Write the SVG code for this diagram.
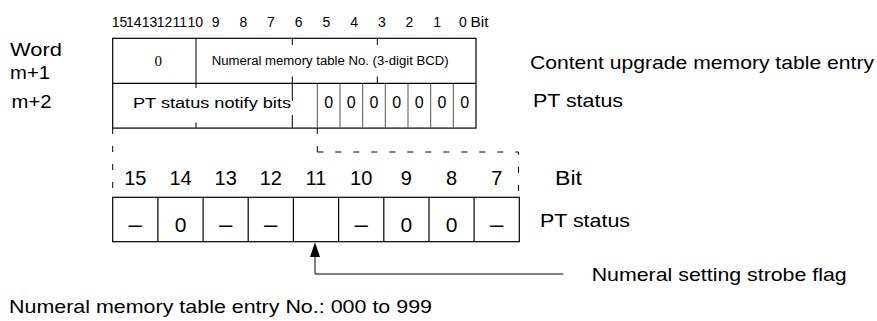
<svg xmlns="http://www.w3.org/2000/svg" width="877" height="321" viewBox="0 0 877 321">
<style>
text{font-family:"Liberation Sans",Arial,Helvetica,sans-serif;fill:#000}
.lbl{font-size:19px}
.hdr{font-size:14px}
.bn{font-size:20px;text-anchor:middle}
.cv{font-size:21px;text-anchor:middle}
.cd{font-size:24px;text-anchor:middle}
.z{font-size:16px;text-anchor:middle}
.box{fill:none;stroke:#000;stroke-width:1.2}
.ln{stroke:#000;stroke-width:1.2;fill:none}
.tk{stroke:#000;stroke-width:1;fill:none}
.gr{stroke:#555;stroke-width:1;fill:none}
.dash{fill:none;stroke:#000;stroke-width:1;stroke-dasharray:6 12}
</style>
<rect width="877" height="321" fill="#fff"/>

<g id="word-labels">
<text class="lbl" x="10" y="56" textLength="52" lengthAdjust="spacingAndGlyphs">Word</text>
<text class="lbl" x="10" y="78.5" textLength="40" lengthAdjust="spacingAndGlyphs">m+1</text>
<text class="lbl" x="11.5" y="108" textLength="40" lengthAdjust="spacingAndGlyphs">m+2</text>
</g>

<g id="top-bit-numbers">
<text class="hdr" x="111.7" y="26.5">15</text>
<text class="hdr" x="126" y="26.5">14</text>
<text class="hdr" x="141.7" y="26.5">13</text>
<text class="hdr" x="156.7" y="26.5">12</text>
<text class="hdr" x="172.5" y="26.5">11</text>
<text class="hdr" x="187.5" y="26.5">10</text>
<text class="hdr" x="211.7" y="26.5">9</text>
<text class="hdr" x="239.4" y="26.5">8</text>
<text class="hdr" x="267.1" y="26.5">7</text>
<text class="hdr" x="294.8" y="26.5">6</text>
<text class="hdr" x="322.5" y="26.5">5</text>
<text class="hdr" x="350.2" y="26.5">4</text>
<text class="hdr" x="377.9" y="26.5">3</text>
<text class="hdr" x="405.6" y="26.5">2</text>
<text class="hdr" x="433.3" y="26.5">1</text>
<text class="hdr" x="459" y="26.5">0</text>
<text class="hdr" x="470.5" y="26.5" textLength="18" lengthAdjust="spacingAndGlyphs">Bit</text>
</g>

<g id="top-table">
<rect class="box" x="112.7" y="38.3" width="363.3" height="89.8"/>
<line class="ln" x1="112.7" y1="83.3" x2="476" y2="83.3"/>
<line class="tk" x1="196" y1="38.3" x2="196" y2="83.3"/>
<line class="tk" x1="196" y1="83.3" x2="196" y2="88"/>
<line class="tk" x1="196" y1="122.5" x2="196" y2="128"/>
<line class="tk" x1="292.3" y1="38.3" x2="292.3" y2="45"/>
<line class="tk" x1="292.3" y1="76.5" x2="292.3" y2="101"/>
<line class="tk" x1="292.3" y1="115" x2="292.3" y2="128"/>
<line class="tk" x1="377.3" y1="38.3" x2="377.3" y2="45"/>
<line class="tk" x1="377.3" y1="76.5" x2="377.3" y2="83.3"/>
<g class="gr">
<line x1="317.3" y1="83.3" x2="317.3" y2="128"/>
<line x1="340" y1="83.3" x2="340" y2="128"/>
<line x1="362.7" y1="83.3" x2="362.7" y2="128"/>
<line x1="385.3" y1="83.3" x2="385.3" y2="128"/>
<line x1="408" y1="83.3" x2="408" y2="128"/>
<line x1="430.7" y1="83.3" x2="430.7" y2="128"/>
<line x1="453.3" y1="83.3" x2="453.3" y2="128"/>
</g>
<text x="158.3" y="66" style="font-family:'Liberation Serif','Times New Roman',serif;font-size:15px;text-anchor:middle">0</text>
<text x="211.7" y="64.5" style="font-size:12.5px" textLength="237" lengthAdjust="spacingAndGlyphs">Numeral memory table No. (3-digit BCD)</text>
<text x="133" y="107.7" style="font-size:15.5px" textLength="158" lengthAdjust="spacingAndGlyphs">PT status notify bits</text>
<text class="z" x="328.7" y="108.3">0</text>
<text class="z" x="351.3" y="108.3">0</text>
<text class="z" x="374" y="108.3">0</text>
<text class="z" x="396.7" y="108.3">0</text>
<text class="z" x="419.3" y="108.3">0</text>
<text class="z" x="442" y="108.3">0</text>
<text class="z" x="464.7" y="108.3">0</text>
</g>

<g id="top-descriptions">
<text class="lbl" x="530" y="68.5" textLength="344" lengthAdjust="spacingAndGlyphs">Content upgrade memory table entry</text>
<text class="lbl" x="533" y="107" textLength="90" lengthAdjust="spacingAndGlyphs">PT status</text>
</g>

<g id="connectors">
<path class="dash" d="M112.7 128 V197.3"/>
<path class="dash" d="M317.3 152 V128"/>
<path class="dash" d="M317.3 152 H518.5 V197.3"/>
<polygon points="315,242.3 310,257 320,257" fill="#000"/>
<path class="tk" d="M315 256 V274 H563.3"/>
</g>

<g id="bottom-bit-numbers">
<text class="bn" x="135.3" y="185">15</text>
<text class="bn" x="180.5" y="185">14</text>
<text class="bn" x="225.7" y="185">13</text>
<text class="bn" x="270.8" y="185">12</text>
<text class="bn" x="316" y="185">11</text>
<text class="bn" x="361.2" y="185">10</text>
<text class="bn" x="406.4" y="185">9</text>
<text class="bn" x="451.6" y="185">8</text>
<text class="bn" x="496.7" y="185">7</text>
<text x="555" y="185" style="font-size:20px" textLength="27" lengthAdjust="spacingAndGlyphs">Bit</text>
</g>

<g id="bottom-table">
<rect class="box" x="112.7" y="197.3" width="406.6" height="44.4"/>
<g class="ln">
<line x1="157.9" y1="197.3" x2="157.9" y2="241.7"/>
<line x1="203.1" y1="197.3" x2="203.1" y2="241.7"/>
<line x1="248.2" y1="197.3" x2="248.2" y2="241.7"/>
<line x1="293.4" y1="197.3" x2="293.4" y2="241.7"/>
<line x1="338.6" y1="197.3" x2="338.6" y2="241.7"/>
<line x1="383.8" y1="197.3" x2="383.8" y2="241.7"/>
<line x1="429" y1="197.3" x2="429" y2="241.7"/>
<line x1="474.1" y1="197.3" x2="474.1" y2="241.7"/>
</g>
<text class="cd" x="135.3" y="231.5">–</text>
<text class="cv" x="180.5" y="231.5">0</text>
<text class="cd" x="225.7" y="231.5">–</text>
<text class="cd" x="270.8" y="231.5">–</text>
<text class="cd" x="361.2" y="231.5">–</text>
<text class="cv" x="406.4" y="231.5">0</text>
<text class="cv" x="451.6" y="231.5">0</text>
<text class="cd" x="496.7" y="231.5">–</text>
</g>

<g id="bottom-descriptions">
<text class="lbl" x="540" y="226.5" textLength="90" lengthAdjust="spacingAndGlyphs">PT status</text>
<text class="lbl" x="591.7" y="280.5" textLength="255" lengthAdjust="spacingAndGlyphs">Numeral setting strobe flag</text>
<text class="lbl" x="9" y="313" textLength="423" lengthAdjust="spacingAndGlyphs">Numeral memory table entry No.: 000 to 999</text>
</g>
</svg>
